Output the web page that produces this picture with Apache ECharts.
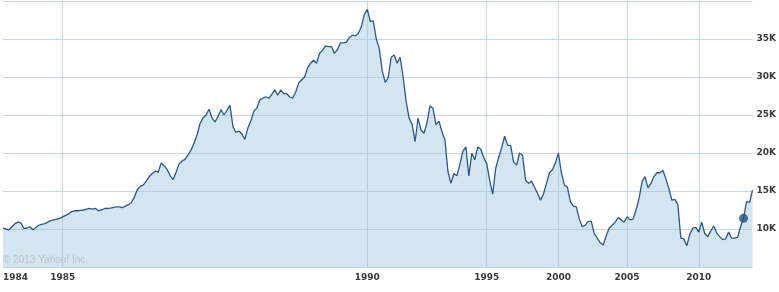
<!DOCTYPE html>
<html>
<head>
<meta charset="utf-8">
<script src="https://cdn.jsdelivr.net/npm/echarts@6/dist/echarts.min.js"></script>
<style>
html,body{margin:0;padding:0;background:#fff;}
#chart{width:779px;height:292px;}
</style>
</head>
<body>
<div id="chart"></div>
<script>
// Index level in thousands (K), sampled evenly along the chart
const values = [
  10.1,10.0,9.9,10.3,10.7,10.9,10.8,10.1,10.1,10.3,
  9.9,10.2,10.5,10.6,10.7,10.9,11.1,11.2,11.3,11.4,
  11.6,11.8,12.0,12.3,12.4,12.4,12.45,12.5,12.6,12.7,
  12.6,12.7,12.4,12.5,12.7,12.7,12.75,12.85,12.9,12.9,
  12.8,13.0,13.2,13.5,14.2,15.2,15.6,15.8,16.3,16.9,
  17.3,17.6,17.5,18.7,18.3,17.8,17.0,16.5,17.5,18.6,
  18.95,19.2,19.8,20.4,21.3,22.4,23.9,24.6,25.0,25.75,
  24.6,24.1,24.8,25.7,25.0,25.6,26.3,23.5,22.7,22.9,
  22.5,21.8,23.3,24.2,25.5,25.9,27.0,27.2,27.4,27.2,
  27.7,28.3,27.6,28.3,27.8,27.8,27.4,27.2,28.0,29.2,
  29.6,30.0,31.2,31.8,32.2,31.8,33.1,33.5,34.1,34.0,
  34.0,33.1,33.6,34.5,34.5,34.6,35.2,35.5,35.4,35.75,
  36.6,38.2,38.9,37.3,37.4,35.0,33.8,30.8,29.3,29.9,
  32.6,32.9,31.8,32.6,30.0,26.8,24.6,23.8,21.5,24.6,
  23.0,22.6,24.0,26.2,25.9,23.7,24.2,22.8,21.7,17.6,
  16.0,17.3,17.0,18.5,20.2,20.8,17.0,20.0,19.1,20.8,
  20.5,19.4,18.6,16.4,14.6,18.0,19.4,20.7,22.2,21.0,
  21.0,18.8,18.4,20.0,19.7,16.4,16.0,16.3,15.5,14.7,
  13.8,14.6,16.0,17.4,17.8,18.7,20.0,17.4,15.8,15.5,
  13.6,13.0,12.9,11.3,10.3,10.5,11.0,11.0,9.4,8.8,
  8.2,7.9,9.1,10.1,10.5,10.9,11.5,11.2,10.9,11.6,
  11.2,11.3,12.5,14.0,16.2,16.9,15.4,16.0,16.9,17.4,
  17.4,17.7,16.6,15.3,13.8,13.9,13.2,8.8,8.7,7.8,
  9.3,10.1,10.2,9.6,10.9,9.4,9.0,9.7,10.4,9.5,
  9.0,8.6,8.7,9.6,8.8,8.8,8.9,10.3,11.4,13.6,
  13.5,15.1
];
// Year tick labels and the sample index where each year starts
const tickLabels = ['1984','1985','1990','1995','2000','2005','2010'];
const tickIndex  = [0, 20, 122, 162, 186, 209, 233];
// Highlighted point
const markerIndex = 248;

const categories = values.map((v, i) => 's' + i);
const labelOf = {};
tickIndex.forEach((idx, k) => { labelOf[idx] = tickLabels[k]; });

const chart = echarts.init(document.getElementById('chart'), null, {renderer: 'canvas'});
chart.setOption({
  animation: false,
  backgroundColor: '#ffffff',
  grid: {left: 0, right: 26, top: 1, bottom: 25, containLabel: false},
  xAxis: {
    type: 'category',
    data: categories,
    boundaryGap: false,
    axisLine: {show: true, lineStyle: {color: '#c5d3de', width: 1}},
    axisTick: {show: false},
    axisLabel: {
      interval: (i) => labelOf[i] !== undefined,
      formatter: (v, i) => labelOf[i] || '',
      color: '#3a3a3a',
      fontFamily: 'DejaVu Sans',
      fontWeight: 'bold',
      fontSize: 9,
      margin: 6,
      alignMinLabel: 'left'
    },
    splitLine: {
      show: true,
      interval: (i) => labelOf[i] !== undefined && i !== 0,
      lineStyle: {color: '#ccd6df', width: 1}
    }
  },
  yAxis: {
    type: 'value',
    position: 'right',
    min: 5,
    max: 40,
    interval: 5,
    axisLine: {show: false},
    axisTick: {show: false},
    axisLabel: {
      showMinLabel: false,
      showMaxLabel: false,
      formatter: (v) => v + 'K',
      color: '#3a3a3a',
      fontFamily: 'DejaVu Sans',
      fontWeight: 'bold',
      fontSize: 9,
      margin: 4
    },
    splitLine: {show: true, lineStyle: {color: '#ccd6df', width: 1}}
  },
  series: [
    {
      type: 'line',
      data: values,
      symbol: 'none',
      lineStyle: {color: '#2a5889', width: 1.3},
      areaStyle: {color: 'rgba(160,198,226,0.45)', opacity: 1},
      z: 2
    },
    {
      type: 'scatter',
      data: [[markerIndex, values[markerIndex]]],
      symbolSize: 9,
      itemStyle: {color: '#1f4f82'},
      z: 3
    }
  ],
  graphic: [
    {
      type: 'text',
      left: 3,
      top: 255,
      style: {
        text: '\u00a9 2013 Yahoo! Inc.',
        fill: '#b7c3cd',
        font: '10px "Liberation Sans"'
      },
      z: 10
    }
  ]
});
</script>
</body>
</html>
